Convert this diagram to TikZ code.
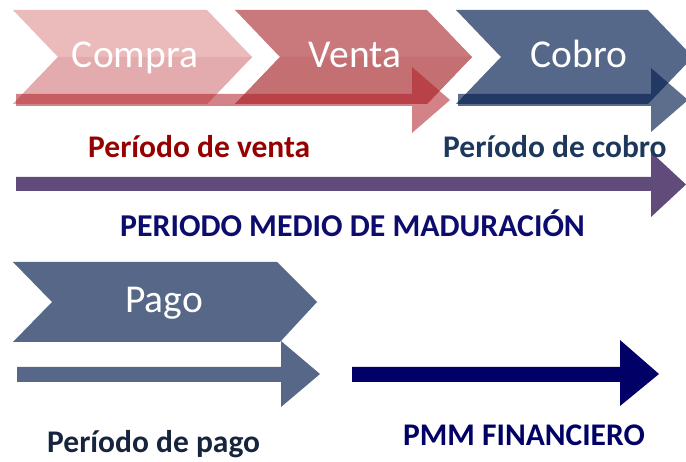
\documentclass[tikz,border=0pt]{standalone}
\usepackage{fontspec}
\setmainfont{Carlito}
\definecolor{compraup}{RGB}{235,186,187}
\definecolor{compralo}{RGB}{227,171,173}
\definecolor{ventaup}{RGB}{201,120,123}
\definecolor{ventalo}{RGB}{196,111,114}
\definecolor{cobroc}{RGB}{86,104,138}
\definecolor{redarrow}{RGB}{175,30,38}
\definecolor{bluearrow}{RGB}{7,33,79}
\definecolor{purplearrow}{RGB}{96,75,123}
\definecolor{pagoc}{RGB}{86,103,136}
\definecolor{navyc}{RGB}{0,0,102}
\definecolor{ventatxt}{RGB}{150,0,0}
\definecolor{cobrotxt}{RGB}{30,55,92}
\definecolor{madtxt}{RGB}{12,12,110}
\definecolor{pagotxt}{RGB}{22,36,62}
\tikzset{
  steplabel/.style={text=white, font=\fontsize{39.5}{42}\selectfont, inner sep=0pt, anchor=base},
  boldlabel/.style={font=\fontsize{31.5}{34}\selectfont\bfseries, inner sep=0pt, anchor=base west},
}
\begin{document}
\begin{tikzpicture}[x=1pt,y=-1pt]
\useasboundingbox (0,0) rectangle (686,462);
\fill[white] (0,0) rectangle (686,462);
\clip (0,0) rectangle (686,462);
% chevrons top row
\fill[compraup] (13,10) -- (207,10) -- (252,57) -- (207,104) -- (13,104) -- (58,57) -- cycle;
\fill[compralo] (58,57) -- (252,57) -- (207,104) -- (13,104) -- cycle;
\fill[ventaup] (235,10) -- (427,10) -- (472,57) -- (427,104) -- (235,104) -- (280,57) -- cycle;
\fill[ventalo] (280,57) -- (472,57) -- (427,104) -- (235,104) -- cycle;
\fill[cobroc] (456,10) -- (648,10) -- (693,57) -- (648,104) -- (456,104) -- (501,57) -- cycle;
% period arrows
\fill[redarrow, opacity=0.55] (16,94) -- (412,94) -- (412,67) -- (450,100) -- (412,133) -- (412,106) -- (16,106) -- cycle;
\fill[bluearrow, opacity=0.65] (458,94) -- (651,94) -- (651,68) -- (688,100) -- (651,132) -- (651,106) -- (458,106) -- cycle;
% labels in chevrons
\node[steplabel] (compra) at (135,68) {Compra};
\node[steplabel] (venta) at (355,68) {Venta};
\node[steplabel] (cobro) at (579,68) {Cobro};
% period labels
\node[boldlabel, text=ventatxt] (pventa) at (88,158) {Período de venta};
% purple arrow
\fill[purplearrow] (16,177) -- (651,177) -- (651,152) -- (686,184.5) -- (651,217) -- (651,191) -- (16,191) -- cycle;
\node[boldlabel, text=cobrotxt] (pcobro) at (443,158) {Período de cobro};
\node[boldlabel, text=madtxt, font=\fontsize{31.8}{34}\selectfont\bfseries] (pmm) at (120,237) {PERIODO MEDIO DE MADURACIÓN};
% pago chevron
\fill[pagoc] (13,262) -- (277,262) -- (317,302) -- (280,342) -- (13,342) -- (52,302) -- cycle;
\node[steplabel] (pago) at (164,313) {Pago};
% pago arrow
\fill[pagoc] (17,367) -- (281,367) -- (281,341) -- (320,374) -- (281,407) -- (281,382) -- (17,382) -- cycle;
% pmm financiero arrow
\fill[navyc] (352,367) -- (620,367) -- (620,340) -- (659,374) -- (620,406) -- (620,382) -- (352,382) -- cycle;
\node[boldlabel, text=pagotxt] (ppago) at (47,453) {Período de pago};
\node[boldlabel, text=navyc] (pmmf) at (403,446) {PMM FINANCIERO};
\end{tikzpicture}
\end{document}
